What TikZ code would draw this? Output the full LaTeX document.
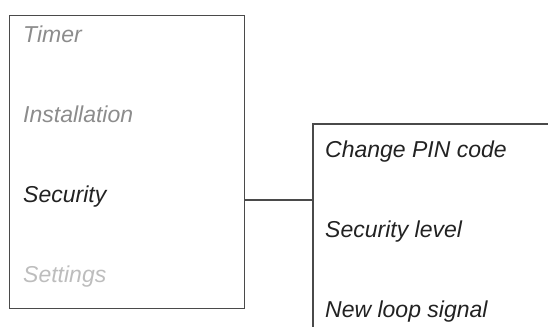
\documentclass[tikz,border=0pt]{standalone}
\usepackage{fontspec}
\setmainfont{Liberation Sans}
\definecolor{linec}{HTML}{4A4A4A}
\definecolor{dark}{HTML}{222222}
\definecolor{midgray}{HTML}{8C8C8C}
\definecolor{lightgray}{HTML}{BDBDBD}
\begin{document}
\begin{tikzpicture}[x=1pt,y=-1pt,
  frame/.style={draw=linec,line width=1.3pt},
  item/.style={anchor=base west,inner sep=0pt,font=\fontsize{23}{28}\selectfont\itshape}]
\useasboundingbox (0,0) rectangle (548,327);
\node[frame,anchor=north west,minimum width=235pt,minimum height=293pt,inner sep=0pt] (menu) at (9,15) {};
\node[item,text=midgray] (timer) at (23,42) {Timer};
\node[item,text=midgray] (inst) at (23,122) {Installation};
\node[item,text=dark] (sec) at (23,202) {Security};
\node[item,text=lightgray] (sett) at (23,282) {Settings};
\coordinate (sub) at (313,124);
\coordinate (subr) at (548,124);
\coordinate (subb) at (313,327);
\coordinate (j) at (313,200);
\draw[frame] (subr) -- (sub) -- (subb);
\draw[frame] (menu.east |- j) -- (j);
\node[item,text=dark] (pin) at (325,157) {Change PIN code};
\node[item,text=dark] (lvl) at (325,237) {Security level};
\node[item,text=dark] (loop) at (325,317) {New loop signal};
\end{tikzpicture}
\end{document}
